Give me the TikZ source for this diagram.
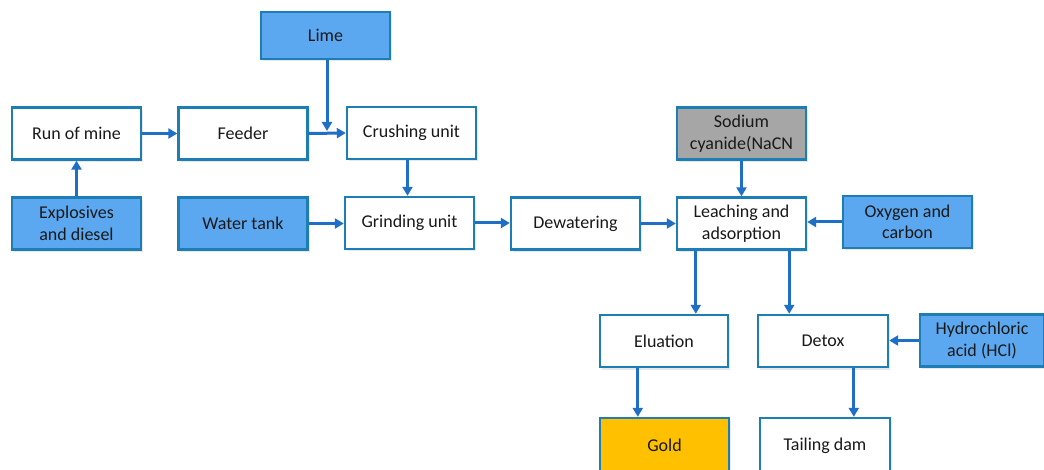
\documentclass[tikz,border=0pt]{standalone}
\usepackage{fontspec}
\setmainfont{Carlito}
\usetikzlibrary{arrows.meta,calc,shadows}
\definecolor{bx}{RGB}{28,126,180}
\definecolor{bfill}{RGB}{91,168,240}
\definecolor{gfill}{RGB}{166,166,166}
\definecolor{goldc}{RGB}{255,192,0}
\definecolor{arr}{RGB}{31,111,198}
\definecolor{txt}{RGB}{25,25,25}
\tikzset{
  box/.style={draw=bx, line width=2.4pt, fill=white, minimum width=129pt, minimum height=52pt,
    inner sep=0pt, align=center, text=txt, font=\fontsize{18}{21.5}\selectfont,
    drop shadow={opacity=0.18, shadow xshift=2pt, shadow yshift=-2.5pt}},
  inbox/.style={box, fill=bfill},
  graybox/.style={box, fill=gfill},
  goldbox/.style={box, fill=goldc},
  flow/.style={draw=arr, line width=3pt, -{Triangle[length=9pt,width=10pt]}}
}
\begin{document}
\begin{tikzpicture}[x=1pt,y=-1pt]
\useasboundingbox (0,0) rectangle (1044,470);
\clip (0,0) rectangle (1044,470);
\fill[white] (0,0) rectangle (1044,470);
\node[inbox, minimum height=47pt] (lime) at (325.5,35.5) {Lime};
\node[box] (rom) at (76.5,133.5) {Run of mine};
\node[box] (feeder) at (243,133.5) {Feeder};
\node[box] (crush) at (411.5,133) {Crushing unit};
\node[inbox] (expl) at (76.5,223.5) {Explosives\\and diesel};
\node[inbox] (water) at (243,223.5) {Water tank};
\node[box] (grind) at (409.5,223) {Grinding unit};
\node[box] (dew) at (575.5,223.5) {Dewatering};
\node[graybox] (sod) at (741.5,133.5) {Sodium\\cyanide(NaCN};
\node[box] (leach) at (741.5,223.5) {Leaching and\\adsorption};
\node[inbox] (oxy) at (907.5,222) {Oxygen and\\carbon};
\node[box, minimum width=128pt] (elu) at (664,341) {Eluation};
\node[box, minimum width=130pt] (detox) at (823,341) {Detox};
\node[inbox, minimum width=124pt] (hcl) at (982,340.5) {Hydrochloric\\acid (HCl)};
\node[goldbox, minimum height=56pt] (gold) at (664.5,446) {\raisebox{2pt}{Gold}};
\node[box, minimum width=130pt, minimum height=56pt] (tail) at (825,446) {\raisebox{2pt}{Tailing dam}};

\coordinate (lj) at (327,131);
\coordinate (c1) at ($(crush.south)+(-4,0)$);
\coordinate (c2) at ($(leach.south west)+(20,0)$);
\coordinate (c3) at ($(leach.south east)+(-18,0)$);
\coordinate (c4) at ($(elu.south west)+(39,0)$);
\coordinate (c5) at ($(detox.south west)+(97,0)$);
\draw[flow] (lime.south -| lj) -- (lj);
\draw[flow] (rom.east) -- (feeder.west);
\draw[flow] (feeder.east) -- (crush.west);
\draw[flow] (expl.north) -- (rom.south);
\draw[flow] (c1) -- (c1 |- grind.north);
\draw[flow] (water.east) -- (water.east -| grind.west);
\draw[flow] (grind.east) -- (grind.east -| dew.west);
\draw[flow] (dew.east) -- (leach.west);
\draw[flow] (sod.south) -- (leach.north);
\draw[flow] (oxy.west) -- (oxy.west -| leach.east);
\draw[flow] (c2) -- (c2 |- elu.north);
\draw[flow] (c3) -- (c3 |- detox.north);
\draw[flow] (c4) -- (c4 |- gold.north);
\draw[flow] (c5) -- (c5 |- tail.north);
\draw[flow] (hcl.west) -- (hcl.west -| detox.east);
\end{tikzpicture}
\end{document}
